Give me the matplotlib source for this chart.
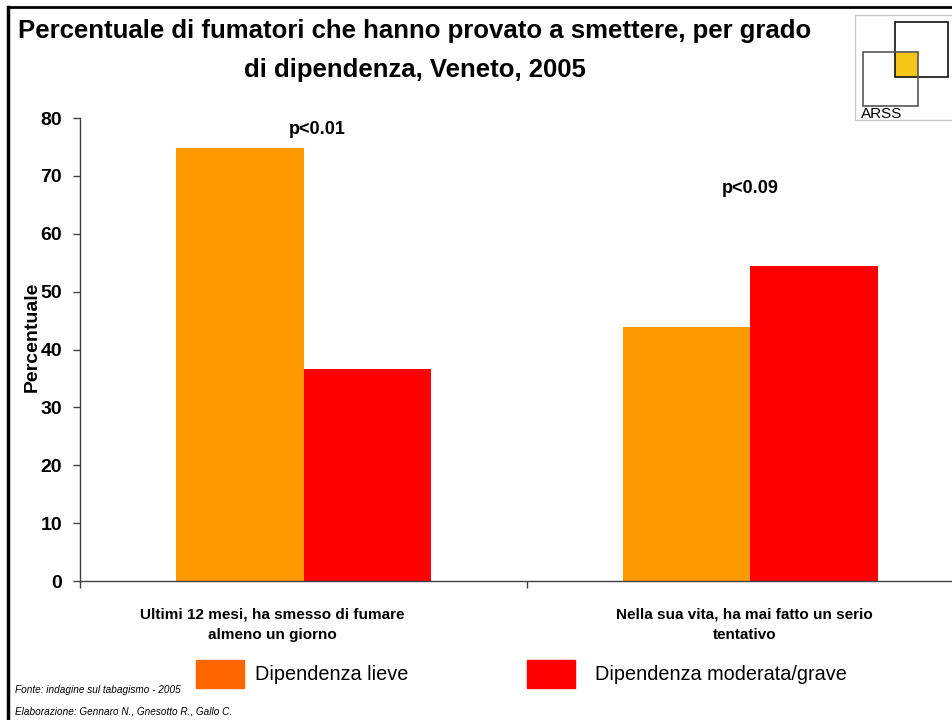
import matplotlib
matplotlib.use("Agg")
import matplotlib.pyplot as plt
from matplotlib.lines import Line2D
from matplotlib.patches import Rectangle
import numpy as np

# data
categories = ["Ultimi 12 mesi, ha smesso di fumare\nalmeno un giorno",
              "Nella sua vita, ha mai fatto un serio\ntentativo"]
series_names = ["Dipendenza lieve", "Dipendenza moderata/grave"]
lieve = [74.8, 43.9]
grave = [36.6, 54.4]
p_labels = ["p<0.01", "p<0.09"]
p_heights = [78, 67.8]
yticks = [0, 10, 20, 30, 40, 50, 60, 70, 80]

plt.rcParams["font.family"] = ["Liberation Sans", "DejaVu Sans"]

bar_colors = ["#FF9900", "#FF0000"]
legend_colors = ["#FF6600", "#FF0000"]

fig = plt.figure(figsize=(9.53, 7.2), dpi=100)
ax = fig.add_axes([0.084, 0.193, 0.938, 0.643])

x = np.arange(len(categories))
w = 0.286
ax.bar(x - w / 2, lieve, width=w, color=bar_colors[0], label=series_names[0])
ax.bar(x + w / 2, grave, width=w, color=bar_colors[1], label=series_names[1])

ax.set_xlim(-0.5, 1.5)
ax.set_ylim(0, 80)
ax.set_yticks(yticks)
ax.set_yticklabels([str(t) for t in yticks], fontsize=14, fontweight="bold")
ax.set_xticks([-0.5, 0.5, 1.5])
ax.set_xticklabels([])
ax.tick_params(axis="both", direction="out", length=5, color="#404040", width=1)
ax.tick_params(axis="y", pad=8)
for s in ["top", "right"]:
    ax.spines[s].set_visible(False)
for s in ["left", "bottom"]:
    ax.spines[s].set_color("#404040")
    ax.spines[s].set_linewidth(1)

# category labels
label_x = [-0.07, 0.987]
for lx, cat in zip(label_x, categories):
    ax.text(lx, -4.6, cat, ha="center", va="top", fontsize=11,
            fontweight="bold", linespacing=1.6, clip_on=False)

# p-values
p_x = [0.03, 0.0]
for xi, (lab, h, dx) in enumerate(zip(p_labels, p_heights, p_x)):
    ax.text(xi + dx, h, lab, ha="center", va="center",
            fontsize=13, fontweight="bold")

ax.set_ylabel("Percentuale", fontsize=14, fontweight="bold")
ax.yaxis.set_label_coords(-0.044, 0.527)

# title
fig.text(0.435, 0.973, "Percentuale di fumatori che hanno provato a smettere, per grado\n"
         "di dipendenza, Veneto, 2005", ha="center", va="top", fontsize=18.5,
         fontweight="bold", multialignment="center", linespacing=1.75)

# legend
legend_px = [(196, 255), (527, 595)]
for (px, tx), name, col in zip(legend_px, series_names, legend_colors):
    fig.add_artist(Rectangle((px / 953, 1 - 688 / 720), 48 / 953, 28 / 720,
                             transform=fig.transFigure, color=col))
    fig.text(tx / 953, 1 - 674 / 720, name, ha="left", va="center",
             fontsize=14.3)

# footnotes
fig.text(15 / 953, 1 - 690 / 720, "Fonte: indagine sul tabagismo - 2005",
         fontsize=7.2, style="italic", va="center")
fig.text(15 / 953, 1 - 712 / 720, "Elaborazione: Gennaro N., Gnesotto R., Gallo C.",
         fontsize=7.2, style="italic", va="center")

# frame lines
fig.add_artist(Line2D([8 / 953, 1], [1 - 7 / 720] * 2, color="black", lw=2))
fig.add_artist(Line2D([8 / 953] * 2, [0, 1 - 7 / 720], color="black", lw=2.5))


# logo
def fx(px):
    return px / 953


def fy(py):
    return 1 - py / 720


fig.add_artist(Rectangle((fx(855), fy(120)), fx(110), 105 / 720,
                         transform=fig.transFigure, facecolor="white",
                         edgecolor="#c8c8c8", lw=1))
fig.add_artist(Rectangle((fx(895), fy(77)), fx(23), 25 / 720,
                         transform=fig.transFigure, facecolor="#F5C518",
                         edgecolor="none"))
fig.add_artist(Rectangle((fx(895), fy(77)), fx(53), 55 / 720,
                         transform=fig.transFigure, facecolor="none",
                         edgecolor="#111111", lw=1.2))
fig.add_artist(Rectangle((fx(863), fy(106)), fx(55), 54 / 720,
                         transform=fig.transFigure, facecolor="none",
                         edgecolor="#555555", lw=1.2))
fig.text(fx(861), fy(114), "ARSS", fontsize=11, va="center")

fig.savefig("out.png", dpi=100)
